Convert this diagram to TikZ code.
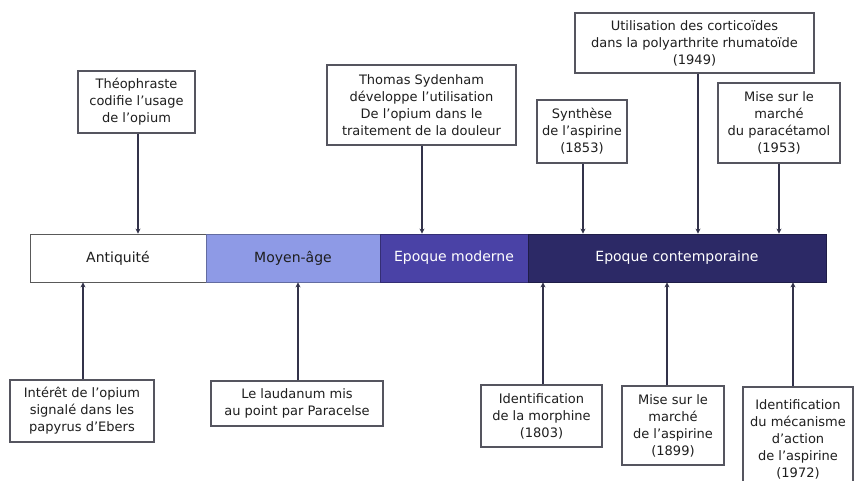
\documentclass[tikz,border=0pt]{standalone}
\usepackage{fontspec}
\setmainfont{DejaVu Sans}
\usetikzlibrary{arrows.meta}
\definecolor{moycol}{HTML}{8E9AE6}
\definecolor{modcol}{HTML}{4A42A6}
\definecolor{concol}{HTML}{2C2966}
\definecolor{linecol}{HTML}{33334A}
\definecolor{boxline}{HTML}{55555F}
\definecolor{txtcol}{HTML}{1E1E1E}
\begin{document}
\begin{tikzpicture}[x=1pt,y=-1pt,
  evbox/.style={draw=boxline, line width=1.2pt, fill=white, inner sep=1pt,
    align=center, font=\fontsize{13}{17}\selectfont, text=txtcol},
  seg/.style={draw=#1, line width=0.8pt, minimum height=48pt, inner sep=0pt,
    font=\fontsize{14}{17}\selectfont},
  arr/.style={draw=linecol, line width=1.6pt, -{Stealth[length=5pt,width=5pt]}}]
\fill[white] (0,0) rectangle (854,480);
\useasboundingbox (0,0) rectangle (854,480);
\clip (0,0) rectangle (854,480);

% timeline bar
\node[seg=gray!70!black, fill=white, minimum width=176pt, text=txtcol] (ant) at (118,258) {Antiquité};
\node[seg=moycol!70!black, fill=moycol, minimum width=174pt, text=txtcol] (moy) at (293,258) {Moyen-âge};
\node[seg=modcol!70!black, fill=modcol, minimum width=148pt, text=white] (mod) at (454,258) {Epoque moderne};
\node[seg=concol!70!black, fill=concol, minimum width=298pt, text=white] (con) at (677,258) {Epoque contemporaine};

% top events
\node[evbox, minimum width=117pt, minimum height=62pt] (theo) at (136.5,102)
  {Théophraste\\codifie l'usage\\de l'opium};
\node[evbox, minimum width=189pt, minimum height=80pt] (syd) at (421.5,105)
  {Thomas Sydenham\\développe l'utilisation\\De l'opium dans le\\traitement de la douleur};
\node[evbox, minimum width=90pt, minimum height=63pt] (syn) at (582,131.5)
  {Synthèse\\de l'aspirine\\(1853)};
\node[evbox, minimum width=239pt, minimum height=60pt] (cort) at (694.5,43)
  {Utilisation des corticoïdes\\dans la polyarthrite rhumatoïde\\(1949)};
\node[evbox, minimum width=122pt, minimum height=80pt] (para) at (779,123)
  {Mise sur le\\marché\\du paracétamol\\(1953)};

% bottom events
\node[evbox, minimum width=144pt, minimum height=62pt] (ebers) at (82,411)
  {Intérêt de l'opium\\signalé dans les\\papyrus d'Ebers};
\node[evbox, minimum width=172pt, minimum height=45pt] (laud) at (297,403.5)
  {Le laudanum mis\\au point par Paracelse};
\node[evbox, minimum width=121pt, minimum height=62pt] (morph) at (541.5,416)
  {Identification\\de la morphine\\(1803)};
\node[evbox, minimum width=102pt, minimum height=79pt] (asp) at (673,425.5)
  {Mise sur le\\marché\\de l'aspirine\\(1899)};
\node[evbox, minimum width=110pt, minimum height=105pt] (meca) at (798,439.5)
  {Identification\\du mécanisme\\d'action\\de l'aspirine\\(1972)};

% connectors
\draw[arr] ([xshift=1.5pt]theo.south) -- ([xshift=1.5pt]theo.south |- ant.north);
\draw[arr] ([xshift=0.5pt]syd.south) -- ([xshift=0.5pt]syd.south |- mod.north);
\draw[arr] ([xshift=1pt]syn.south) -- ([xshift=1pt]syn.south |- con.north);
\draw[arr] ([xshift=3.5pt]cort.south) -- ([xshift=3.5pt]cort.south |- con.north);
\draw[arr] (para.south) -- (para.south |- con.north);

\draw[arr] ([xshift=1pt]ebers.north) -- ([xshift=1pt]ebers.north |- ant.south);
\draw[arr] ([xshift=1pt]laud.north) -- ([xshift=1pt]laud.north |- moy.south);
\draw[arr] ([xshift=1.5pt]morph.north) -- ([xshift=1.5pt]morph.north |- con.south);
\draw[arr] ([xshift=-6pt]asp.north) -- ([xshift=-6pt]asp.north |- con.south);
\draw[arr] ([xshift=-5pt]meca.north) -- ([xshift=-5pt]meca.north |- con.south);
\end{tikzpicture}
\end{document}
